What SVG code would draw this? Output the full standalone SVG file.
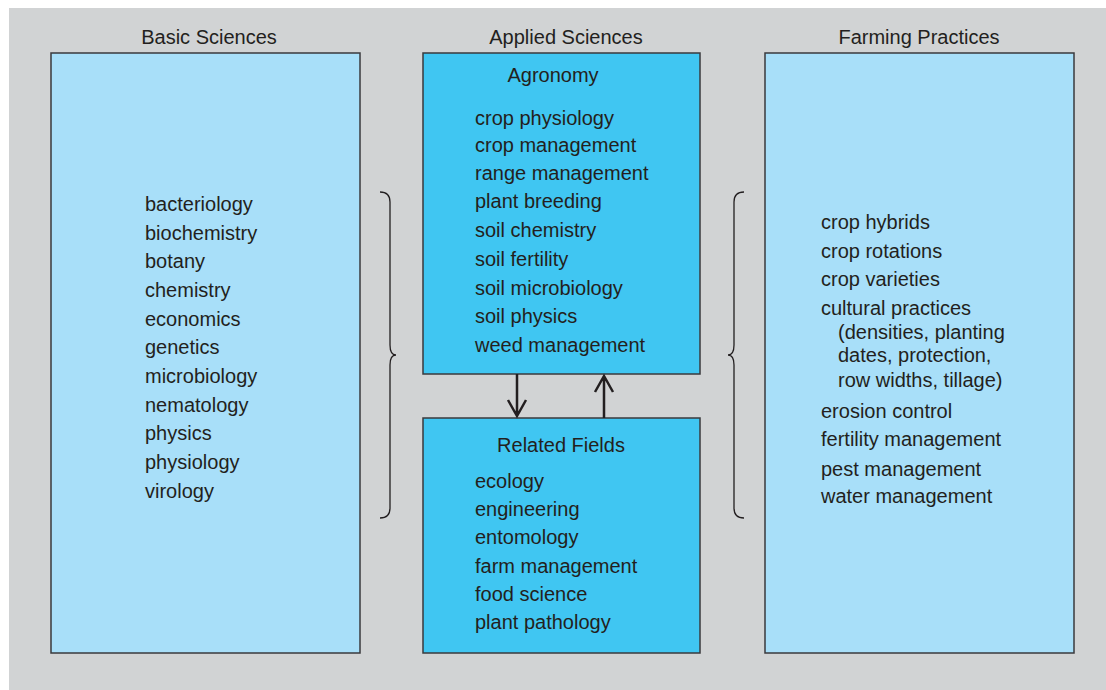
<svg xmlns="http://www.w3.org/2000/svg" width="1106" height="690" viewBox="0 0 1106 690">
<style>
text{font-family:"Liberation Sans",Arial,sans-serif;fill:#231f20;font-size:20px}
.h{font-size:20px;text-anchor:middle}
.t{text-anchor:middle}
.light{fill:#a8dff9;stroke:#3a3a3c;stroke-width:1.5}
.mid{fill:#40c6f2;stroke:#3a3a3c;stroke-width:1.5}
.br{fill:none;stroke:#231f20;stroke-width:1.3}
.ar{fill:none;stroke:#231f20;stroke-width:2.5}
</style>
<rect x="0" y="0" width="1106" height="690" fill="#ffffff"/>
<rect x="9" y="8" width="1097" height="682" fill="#d1d3d4"/>
<text class="h" x="209" y="44">Basic Sciences</text>
<text class="h" x="566" y="44">Applied Sciences</text>
<text class="h" x="919" y="44">Farming Practices</text>
<g id="basic">
<rect class="light" x="51" y="53" width="309" height="600"/>
<text x="145" y="211">bacteriology</text>
<text x="145" y="240">biochemistry</text>
<text x="145" y="268">botany</text>
<text x="145" y="297">chemistry</text>
<text x="145" y="326">economics</text>
<text x="145" y="354">genetics</text>
<text x="145" y="383">microbiology</text>
<text x="145" y="412">nematology</text>
<text x="145" y="440">physics</text>
<text x="145" y="469">physiology</text>
<text x="145" y="498">virology</text>
</g>
<g id="agronomy">
<rect class="mid" x="423" y="53" width="277" height="321"/>
<text class="t" x="553" y="82">Agronomy</text>
<text x="475" y="125">crop physiology</text>
<text x="475" y="152">crop management</text>
<text x="475" y="180">range management</text>
<text x="475" y="208">plant breeding</text>
<text x="475" y="237">soil chemistry</text>
<text x="475" y="266">soil fertility</text>
<text x="475" y="295">soil microbiology</text>
<text x="475" y="323">soil physics</text>
<text x="475" y="352">weed management</text>
</g>
<g id="related">
<rect class="mid" x="423" y="418" width="277" height="235"/>
<text class="t" x="561" y="452">Related Fields</text>
<text x="475" y="488">ecology</text>
<text x="475" y="516">engineering</text>
<text x="475" y="544">entomology</text>
<text x="475" y="573">farm management</text>
<text x="475" y="601">food science</text>
<text x="475" y="629">plant pathology</text>
</g>
<g id="farming">
<rect class="light" x="765" y="53" width="309" height="600"/>
<text x="821" y="229">crop hybrids</text>
<text x="821" y="258">crop rotations</text>
<text x="821" y="286">crop varieties</text>
<text x="821" y="315">cultural practices</text>
<text x="838" y="339">(densities, planting</text>
<text x="838" y="362">dates, protection,</text>
<text x="838" y="387">row widths, tillage)</text>
<text x="821" y="418">erosion control</text>
<text x="821" y="446">fertility management</text>
<text x="821" y="476">pest management</text>
<text x="821" y="503">water management</text>
</g>
<g id="connectors">
<path class="br" d="M380,192 Q390,192 390,202 L390,345 Q390,355 396,355 Q390,355 390,365 L390,508 Q390,518 380,518"/>
<path class="br" d="M744,192 Q734,192 734,202 L734,345 Q734,355 728,355 Q734,355 734,365 L734,508 Q734,518 744,518"/>
<path class="ar" d="M517,374 L517,416 M508,400 L517,416 L526,400"/>
<path class="ar" d="M604,418 L604,376 M595,392 L604,376 L613,392"/>
</g>
</svg>
